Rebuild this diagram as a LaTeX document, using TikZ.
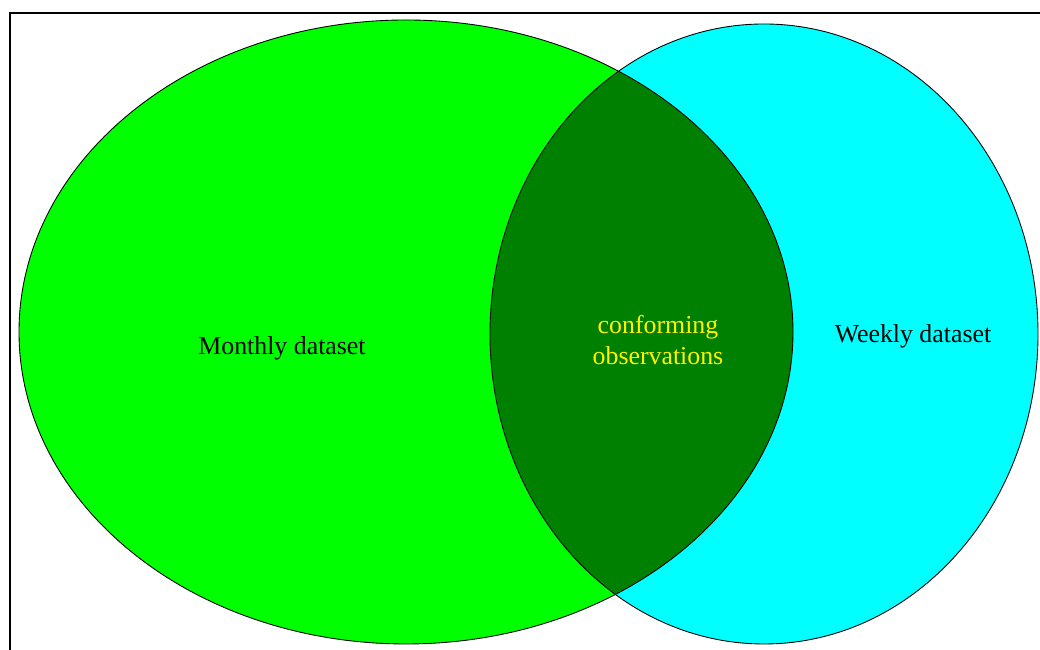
\documentclass[tikz,border=0pt]{standalone}
\usepackage{fontspec}
\setmainfont{Liberation Serif}
\usepackage{tikz}
\definecolor{monthgreen}{RGB}{0,255,0}
\definecolor{weekcyan}{RGB}{0,255,255}
\definecolor{overlapgreen}{RGB}{0,128,0}
\tikzset{
    label text/.style={font=\fontsize{14.7}{17.6}\selectfont, align=center}
}
\begin{document}
\begin{tikzpicture}
    \useasboundingbox (0,0) rectangle (20.8,13);
    % Frame
    \draw[line width=1.3pt] (20.9,12.74) -- (0.2,12.74) -- (0.2,-0.1);
    % Monthly and weekly sets
    \fill[monthgreen] (8.12,6.36) ellipse (7.74 and 6.24);
    \fill[weekcyan] (15.28,6.32) ellipse (5.48 and 6.2);
    % Overlap
    \begin{scope}
        \clip (8.12,6.36) ellipse (7.74 and 6.24);
        \fill[overlapgreen] (15.28,6.32) ellipse (5.48 and 6.2);
    \end{scope}
    % Outlines
    \draw[line width=0.5pt] (8.12,6.36) ellipse (7.74 and 6.24);
    \draw[line width=0.5pt] (15.28,6.32) ellipse (5.48 and 6.2);
    % Labels
    \node[label text] (monthly) at (5.64,6.04) {Monthly dataset};
    \node[label text] (weekly) at (18.26,6.28) {Weekly dataset};
    \node[label text, yellow] (overlap) at (13.16,6.2) {conforming\\observations};
\end{tikzpicture}
\end{document}
